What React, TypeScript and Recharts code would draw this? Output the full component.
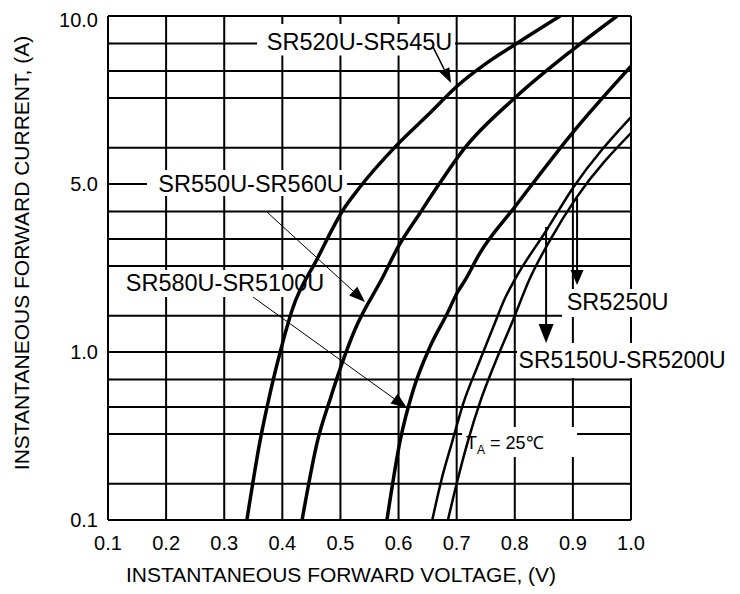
import React from 'react';
import { LineChart, Line, XAxis, YAxis, CartesianGrid, ReferenceArea, ReferenceLine } from 'recharts';

const FONT = '"Liberation Sans", Arial, Helvetica, sans-serif';

// Forward voltage (V) and forward current (A)
const sr520Voltage = [0.339, 0.362, 0.379, 0.396, 0.417, 0.46, 0.5045, 0.5337, 0.597, 0.654, 0.701, 0.752, 0.804, 0.878];
const sr520Current = [0.1, 0.3, 0.57, 0.99, 1.5, 2.44, 3.9, 4.86, 5.87, 6.7, 7.49, 8.24, 8.94, 10.0];

const sr550Voltage = [0.434, 0.461, 0.482, 0.505, 0.525, 0.573, 0.599, 0.637, 0.671, 0.711, 0.8, 0.899, 0.976];
const sr550Current = [0.1, 0.3, 0.52, 0.9, 1.24, 2.05, 2.73, 3.79, 5.02, 5.75, 7.13, 8.69, 10.0];

const sr580Voltage = [0.58, 0.603, 0.625, 0.654, 0.684, 0.7007, 0.715, 0.74, 0.8, 0.899, 1.0];
const sr580Current = [0.1, 0.3, 0.59, 1.05, 1.45, 1.76, 2.0, 2.58, 4.01, 6.17, 8.13];

const sr5150Voltage = [0.658, 0.675, 0.692, 0.711, 0.737, 0.763, 0.782, 0.8, 0.856, 0.9, 1.0];
const sr5150Current = [0.1, 0.18, 0.29, 0.49, 0.84, 1.27, 1.65, 2.0, 3.25, 4.81, 6.59];

const sr5250Voltage = [0.685, 0.701, 0.72, 0.74, 0.766, 0.795, 0.825, 0.861, 0.907, 1.0];
const sr5250Current = [0.1, 0.17, 0.3, 0.5, 0.86, 1.32, 2.0, 2.93, 4.42, 6.17];

const voltageTicks = [0.1, 0.2, 0.3, 0.4, 0.5, 0.6, 0.7, 0.8, 0.9, 1.0];
const currentTicks = [0.1, 1.0, 5.0, 10.0];
const currentTickLabels = ['0.1', '1.0', '5.0', '10.0'];
// minor grid lines inside each labelled band (fraction of the band)
const minorGridSteps = [0.216, 0.386, 0.512, 0.594, 0.673, 0.755, 0.837, 0.9185];

// The printed current axis is piecewise: 0.1-1.0, 1.0-5.0 and 5.0-10.0 each take one band
function toBand(i: number): number {
  if (i <= 1) return Math.log10(i / 0.1);
  if (i <= 5) return 1 + Math.log(i) / Math.log(5);
  return 2 + Math.log2(i / 5);
}

function series(v: number[], c: number[]) {
  return v.map((x, k) => ({ v: x, u: toBand(c[k]) }));
}

const bandTicks = currentTicks.map(toBand);
const gridBands: number[] = [];
for (let b = 0; b < 3; b++) {
  gridBands.push(b);
  minorGridSteps.forEach((f) => gridBands.push(b + f));
}
gridBands.push(3);

function arrowShape(head: number, half: number, sw: number) {
  return (p: any) => {
    const x1 = Number(p.x1), y1 = Number(p.y1), x2 = Number(p.x2), y2 = Number(p.y2);
    const dx = x2 - x1, dy = y2 - y1;
    const len = Math.hypot(dx, dy) || 1;
    const ux = dx / len, uy = dy / len;
    const bx = x2 - ux * head, by = y2 - uy * head;
    const px = -uy * half, py = ux * half;
    return (
      <g>
        <line x1={x1} y1={y1} x2={bx} y2={by} stroke="#000" strokeWidth={sw} />
        <polygon points={`${x2},${y2} ${bx + px},${by + py} ${bx - px},${by - py}`} fill="#000" />
      </g>
    );
  };
}

function boxLabel(text: string, dx: number, dy: number, size: number) {
  return (p: any) => {
    const vb = p.viewBox || {};
    return (
      <text
        x={vb.x + vb.width / 2 + dx}
        y={vb.y + vb.height / 2 + dy}
        dy="0.35em"
        textAnchor="middle"
        fontSize={size}
        fontFamily={FONT}
        fill="#000"
      >
        {text}
      </text>
    );
  };
}

const tempLabel = (p: any) => {
  const vb = p.viewBox || {};
  const x = vb.x + 4;
  const y = vb.y + vb.height / 2 + 1;
  return (
    <text x={x} y={y} dy="0.35em" fontSize={18} fontFamily={FONT} fill="#000">
      <tspan>T</tspan>
      <tspan fontSize={12} dy={5}>A</tspan>
      <tspan dy={-5}> = 25℃</tspan>
    </text>
  );
};

const xTitle = (p: any) => {
  const vb = p.viewBox || {};
  return (
    <text x={vb.x + 233} y={vb.y + 55} dy="0.35em" textAnchor="middle" fontSize={21} fontFamily={FONT} fill="#000">
      INSTANTANEOUS FORWARD VOLTAGE, (V)
    </text>
  );
};

const yTitle = (p: any) => {
  const vb = p.viewBox || {};
  const cx = vb.x + 22;
  const cy = vb.y + 237;
  return (
    <text
      x={cx}
      y={cy}
      dy="0.35em"
      textAnchor="middle"
      transform={`rotate(-90 ${cx} ${cy})`}
      fontSize={21}
      fontFamily={FONT}
      fill="#000"
    >
      INSTANTANEOUS FORWARD CURRENT, (A)
    </text>
  );
};

const yTick = (p: any) => {
  const val = p.payload.value;
  const idx = bandTicks.findIndex((t) => Math.abs(t - val) < 1e-6);
  const shift = idx === bandTicks.length - 1 ? 4 : 0;
  return (
    <text x={p.x} y={p.y + shift} dy="0.35em" textAnchor="end" fontSize={20} fontFamily={FONT} fill="#000">
      {idx >= 0 ? currentTickLabels[idx] : ''}
    </text>
  );
};

export default function App() {
  return (
    <div style={{ width: 740, height: 594, marginTop: -8, marginLeft: -8, marginBottom: -8, background: '#fff' }}>
      <LineChart width={740} height={594} margin={{ top: 16, right: 109, bottom: 0, left: 0 }} style={{ fontFamily: FONT }}>
        <CartesianGrid
          stroke="#000"
          strokeWidth={2}
          horizontalValues={gridBands}
          verticalValues={voltageTicks}
          horizontal
          vertical
        />
        <XAxis
          type="number"
          dataKey="v"
          domain={[0.1, 1.0]}
          ticks={voltageTicks}
          tickFormatter={(v: number) => v.toFixed(1)}
          allowDataOverflow
          axisLine={false}
          tickLine={false}
          tickSize={0}
          tickMargin={16}
          height={74}
          tick={{ fill: '#000', fontSize: 20, fontFamily: FONT }}
          label={xTitle}
        />
        <YAxis
          type="number"
          dataKey="u"
          domain={[0, 3]}
          ticks={bandTicks}
          allowDataOverflow
          axisLine={false}
          tickLine={false}
          tickSize={0}
          tickMargin={10}
          width={108}
          tick={yTick}
          label={yTitle}
        />

        <ReferenceArea x1={0.3565} x2={0.6972} y1={2.765} y2={2.952} ifOverflow="visible" fill="#fff" fillOpacity={1} stroke="none" zIndex={50} label={boxLabel('SR520U-SR545U', 3.5, 2, 23.5)} />
        <ReferenceArea x1={0.1671} x2={0.5114} y1={1.929} y2={2.083} ifOverflow="visible" fill="#fff" fillOpacity={1} stroke="none" zIndex={50} label={boxLabel('SR550U-SR560U', 4, 1, 23.5)} />
        <ReferenceArea x1={0.1155} x2={0.4787} y1={1.327} y2={1.488} ifOverflow="visible" fill="#fff" fillOpacity={1} stroke="none" zIndex={50} label={boxLabel('SR580U-SR5100U', 2.5, -0.5, 23.5)} />
        <ReferenceArea x1={0.8814} x2={1.0725} y1={1.208} y2={1.375} ifOverflow="visible" fill="#fff" fillOpacity={1} stroke="none" zIndex={50} label={boxLabel('SR5250U', 0, -1, 23.5)} />
        <ReferenceArea x1={0.804} x2={1.1878} y1={0.845} y2={1.054} ifOverflow="visible" fill="#fff" fillOpacity={1} stroke="none" zIndex={50} label={boxLabel('SR5150U-SR5200U', -6.5, -0.5, 23)} />
        <ReferenceArea x1={0.7093} x2={0.9072} y1={0.375} y2={0.5536} ifOverflow="visible" fill="#fff" fillOpacity={1} stroke="none" zIndex={50} label={tempLabel} />

        <Line data={series(sr520Voltage, sr520Current)} dataKey="u" type="monotone" stroke="#000" strokeWidth={3.5} dot={false} activeDot={false} isAnimationActive={false} />
        <Line data={series(sr550Voltage, sr550Current)} dataKey="u" type="monotone" stroke="#000" strokeWidth={3.5} dot={false} activeDot={false} isAnimationActive={false} />
        <Line data={series(sr580Voltage, sr580Current)} dataKey="u" type="monotone" stroke="#000" strokeWidth={3.5} dot={false} activeDot={false} isAnimationActive={false} />
        <Line data={series(sr5150Voltage, sr5150Current)} dataKey="u" type="monotone" stroke="#000" strokeWidth={2.5} dot={false} activeDot={false} isAnimationActive={false} />
        <Line data={series(sr5250Voltage, sr5250Current)} dataKey="u" type="monotone" stroke="#000" strokeWidth={2.5} dot={false} activeDot={false} isAnimationActive={false} />

        <ReferenceLine segment={[{ x: 0.6594, y: 2.815 }, { x: 0.6904, y: 2.601 }]} ifOverflow="visible" zIndex={450} shape={arrowShape(15, 5.5, 1.5)} />
        <ReferenceLine segment={[{ x: 0.3737, y: 1.833 }, { x: 0.5423, y: 1.298 }]} ifOverflow="visible" zIndex={450} shape={arrowShape(16, 6, 1)} />
        <ReferenceLine segment={[{ x: 0.3496, y: 1.327 }, { x: 0.6146, y: 0.667 }]} ifOverflow="visible" zIndex={450} shape={arrowShape(16, 6, 1)} />
        <ReferenceLine segment={[{ x: 0.9072, y: 1.917 }, { x: 0.9072, y: 1.399 }]} ifOverflow="visible" zIndex={450} shape={arrowShape(15, 6.5, 2)} />
        <ReferenceLine segment={[{ x: 0.8539, y: 1.744 }, { x: 0.8539, y: 1.054 }]} ifOverflow="visible" zIndex={450} shape={arrowShape(19, 7.5, 2)} />
      </LineChart>
    </div>
  );
}
